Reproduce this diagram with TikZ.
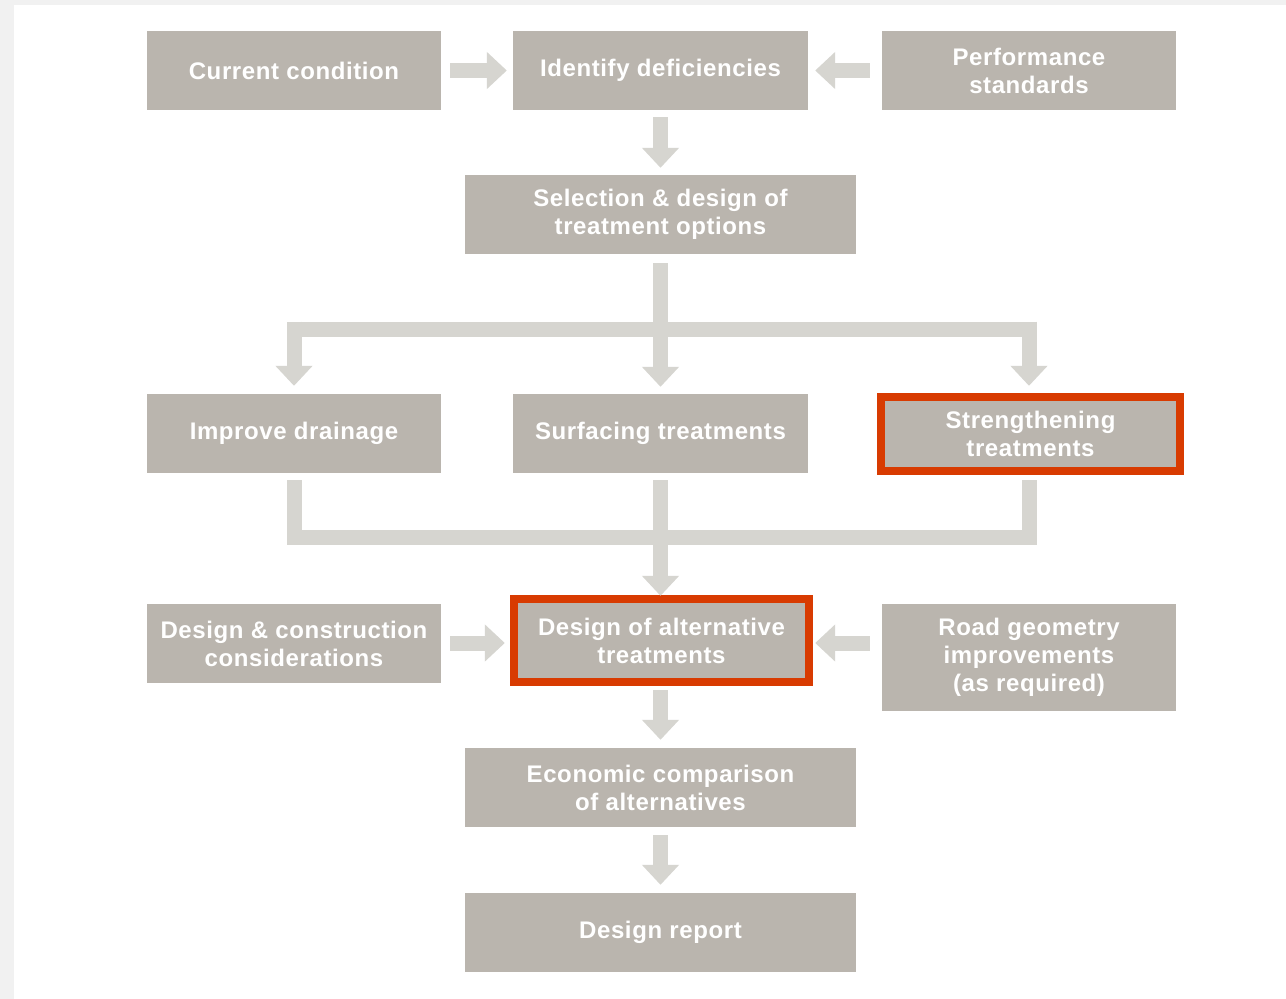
\documentclass[tikz,border=0pt]{standalone}
\usepackage{fontspec}
\setmainfont{Liberation Sans}[LetterSpace=2.5]
\usetikzlibrary{arrows.meta}
\definecolor{boxgray}{HTML}{BAB5AE}
\definecolor{arrowgray}{HTML}{D6D5D0}
\definecolor{hired}{HTML}{D83B01}
\definecolor{bggray}{HTML}{F1F1F1}
\tikzset{
  box/.style={fill=boxgray, draw=none, text=white, align=center,
    font=\fontsize{24}{28}\selectfont\bfseries, inner sep=0pt,
    minimum width=294pt, minimum height=79pt},
  widebox/.style={box, minimum width=391pt},
  hilite/.style={draw=hired, line width=8pt},
  flow/.style={draw=arrowgray, line width=15pt,
    -{Triangle[width=36pt,length=20pt]}},
  bar/.style={draw=arrowgray, line width=15pt}
}
\begin{document}
\begin{tikzpicture}[x=1pt,y=-1pt]
\useasboundingbox (0,0) rectangle (1286,999);
\fill[bggray] (0,0) rectangle (1286,999);
\fill[white] (14,5) rectangle (1286,999);

% boxes
\node[box] (cur) at (294,70.5) {Current condition};
\node[box, minimum width=295pt] (ident) at (660.5,70.5) {Identify deficiencies};
\node[box] (perf) at (1029,70.5) {Performance\\standards};
\node[widebox] (sel) at (660.5,214.5) {Selection \& design of\\treatment options};
\node[box] (drain) at (294,433.5) {Improve drainage};
\node[box, minimum width=295pt] (surf) at (660.5,433.5) {Surfacing treatments};
\node[box, minimum width=291pt, minimum height=66pt] (stren) at (1030.5,434) {Strengthening\\treatments};
\node[box] (dcons) at (294,643.5) {Design \& construction\\considerations};
\node[box, minimum width=287pt, minimum height=75pt] (dalt) at (661.5,640.5) {Design of alternative\\treatments};
\node[box, minimum height=107pt] (road) at (1029,657.5) {Road geometry\\improvements\\(as required)};
\node[widebox] (econ) at (660.5,787.5) {Economic comparison\\of alternatives};
\node[widebox] (rep) at (660.5,932.5) {Design report};

% highlight frames
\draw[hilite] ([xshift=-4pt,yshift=4pt]stren.north west) rectangle ([xshift=4pt,yshift=-4pt]stren.south east);
\draw[hilite] ([xshift=-4pt,yshift=4pt]dalt.north west) rectangle ([xshift=4pt,yshift=-4pt]dalt.south east);

% coordinates for fork and merge bars
\coordinate (forkL) at (287,329);
\coordinate (forkR) at (1037,329);
\coordinate (mergeL) at (287,537.5);
\coordinate (mergeR) at (1037,537.5);
\coordinate (midrow) at (294,643);

% top row arrows
\draw[flow, shorten <=9pt, shorten >=6pt] (cur.east) -- (ident.west |- cur.east);
\draw[flow, shorten <=12pt, shorten >=7pt] (perf.west) -- (ident.east |- perf.west);
\draw[flow, shorten <=7pt, shorten >=7pt] (ident.south) -- (sel.north);

% fork
\draw[bar] (forkL) -- (forkR);
\draw[flow, shorten <=9pt, shorten >=7pt] (sel.south) -- (surf.north);
\draw[flow, shorten >=8pt] (drain.north |- forkL) ++(0,-7.5) -- (drain.north);
\draw[flow, shorten >=15pt] (stren.north |- forkR) ++(-1.5,-7.5) -- ([xshift=-1.5pt]stren.north);

% merge
\draw[bar] (mergeL) -- (mergeR);
\draw[bar, shorten <=7pt] (drain.south) -- ([yshift=-7.5pt]drain.south |- mergeL);
\draw[bar, shorten <=13pt] ([xshift=-1.5pt]stren.south) -- ([xshift=-1.5pt,yshift=-7.5pt]stren.south |- mergeR);
\draw[flow, shorten <=7pt, shorten >=7pt] (surf.south) -- ([xshift=-1pt]dalt.north);

% lower row arrows
\draw[flow, shorten <=9pt, shorten >=13pt] (dcons.east |- midrow) -- (dalt.west |- midrow);
\draw[flow, shorten <=12pt, shorten >=10pt] (road.west |- midrow) -- (dalt.east |- midrow);
\draw[flow, shorten <=12pt, shorten >=8pt] ([xshift=-1pt]dalt.south) -- (econ.north);
\draw[flow, shorten <=8pt, shorten >=8pt] (econ.south) -- (rep.north);
\end{tikzpicture}
\end{document}
